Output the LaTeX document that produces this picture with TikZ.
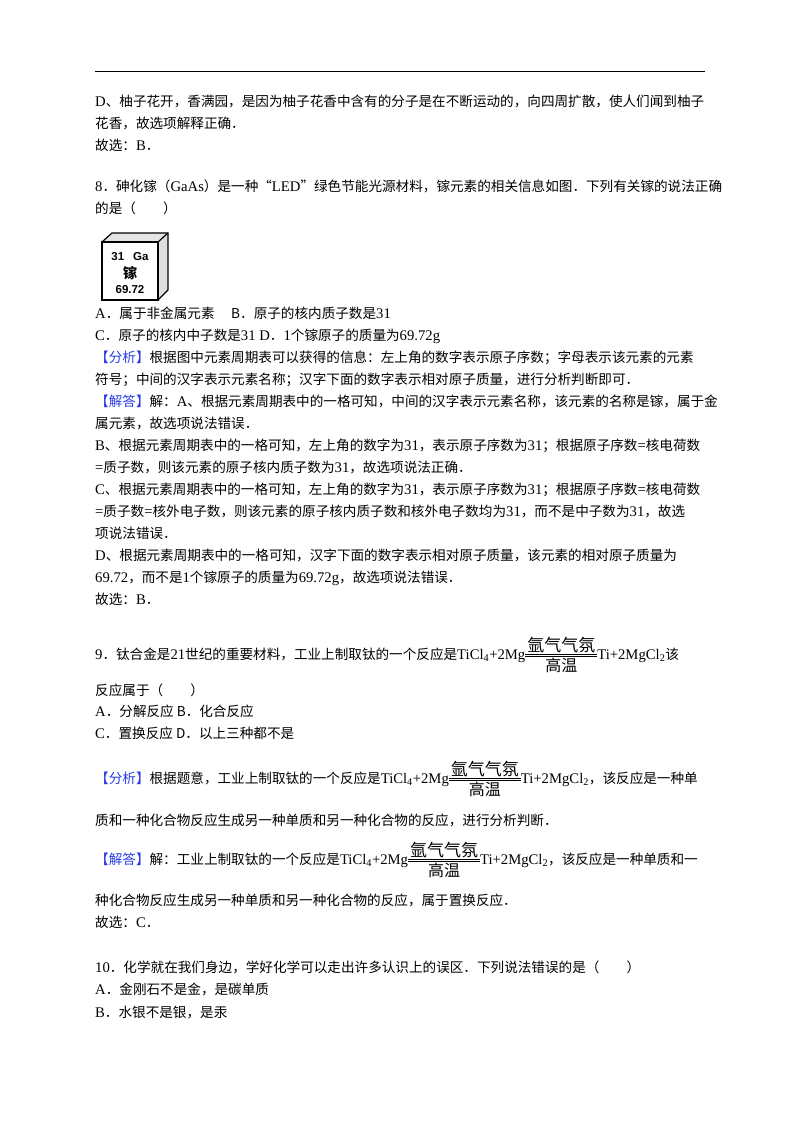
\documentclass[tikz,border=0pt]{standalone}
\usepackage{fontspec}
\setmainfont[Scale=1.08]{Liberation Serif}
\newfontfamily\cjk{Noto Sans CJK SC}
\newfontfamily\latin[Scale=1.08]{Liberation Serif}
\newfontfamily\arialf{Liberation Sans}
\XeTeXinterchartokenstate=1
\newXeTeXintercharclass\cjkclass
\count255="4E00 \loop \XeTeXcharclass\count255=\cjkclass \advance\count255 1 \ifnum\count255<"A000 \repeat
\count255="3000 \loop \XeTeXcharclass\count255=\cjkclass \advance\count255 1 \ifnum\count255<"3040 \repeat
\count255="FF00 \loop \XeTeXcharclass\count255=\cjkclass \advance\count255 1 \ifnum\count255<"FFF0 \repeat
\XeTeXcharclass"201C=\cjkclass \XeTeXcharclass"201D=\cjkclass
\XeTeXinterchartoks 0 \cjkclass = {\cjk}
\XeTeXinterchartoks 4095 \cjkclass = {\cjk}
\XeTeXinterchartoks \cjkclass 0 = {\latin}
\definecolor{tagblue}{RGB}{40,60,230}
\newcommand\tagb[1]{\textcolor{tagblue}{【#1】}}
\newcommand\condeq{\raisebox{0.35ex}{$\mathop{\vbox{\hrule width 72pt height 0.6pt\vskip1.6pt\hrule width 72pt height 0.6pt}}\limits^{\hbox{\fontsize{17}{17}\selectfont 氩气气氛}}_{\hbox{\fontsize{16}{16}\selectfont 高温}}$}}
\newcommand\rxn{TiCl\textsubscript{4}+2Mg\condeq Ti+2MgCl\textsubscript{2}}
\tikzset{txt/.style={anchor=base west,inner sep=0pt,font=\fontsize{13.6}{16}\selectfont}}
\begin{document}
\begin{tikzpicture}[x=1pt,y=-1pt]
\useasboundingbox (0,0) rectangle (800,1132);
\draw[line width=1pt] (95,72) -- (705,72);
\node[txt] (a1) at (95,106) {D、柚子花开，香满园，是因为柚子花香中含有的分子是在不断运动的，向四周扩散，使人们闻到柚子};
\node[txt] (a2) at (95,128) {花香，故选项解释正确．};
\node[txt] (a3) at (95,150) {故选：B．};
\node[txt] (b1) at (95,191) {8．砷化镓（GaAs）是一种“LED”绿色节能光源材料，镓元素的相关信息如图．下列有关镓的说法正确};
\node[txt] (b2) at (95,213) {的是（　　）};
\fill[gray!25] (158,242) -- (168,233) -- (168,290) -- (158,300) -- cycle;
\fill[gray!20] (102,242) -- (112,233) -- (168,233) -- (158,242) -- cycle;
\draw[line width=1.2pt] (102,242) -- (112,233) -- (168,233) -- (168,290) -- (158,300);
\draw[line width=1.2pt] (158,242) -- (168,233);
\draw[line width=1.2pt] (102,242) rectangle (158,300);
\node[font=\arialf\bfseries\fontsize{11.5}{11.5}\selectfont] (e1) at (130,257) {31\hspace{9pt}Ga};
\node[font=\cjk\bfseries\fontsize{14}{14}\selectfont] (e2) at (130,273) {镓};
\node[font=\arialf\bfseries\fontsize{11.5}{11.5}\selectfont] (e3) at (130,290) {69.72};
\node[txt] (c1) at (95,318) {A．属于非金属元素　 B．原子的核内质子数是31};
\node[txt] (c2) at (95,340) {C．原子的核内中子数是31 D．1个镓原子的质量为69.72g};
\node[txt] (c3) at (95,362) {\tagb{分析}根据图中元素周期表可以获得的信息：左上角的数字表示原子序数；字母表示该元素的元素};
\node[txt] (c4) at (95,384) {符号；中间的汉字表示元素名称；汉字下面的数字表示相对原子质量，进行分析判断即可．};
\node[txt] (c5) at (95,406) {\tagb{解答}解：A、根据元素周期表中的一格可知，中间的汉字表示元素名称，该元素的名称是镓，属于金};
\node[txt] (c6) at (95,428) {属元素，故选项说法错误．};
\node[txt] (c7) at (95,450) {B、根据元素周期表中的一格可知，左上角的数字为31，表示原子序数为31；根据原子序数=核电荷数};
\node[txt] (c8) at (95,472) {=质子数，则该元素的原子核内质子数为31，故选项说法正确．};
\node[txt] (c9) at (95,494) {C、根据元素周期表中的一格可知，左上角的数字为31，表示原子序数为31；根据原子序数=核电荷数};
\node[txt] (c10) at (95,516) {=质子数=核外电子数，则该元素的原子核内质子数和核外电子数均为31，而不是中子数为31，故选};
\node[txt] (c11) at (95,538) {项说法错误．};
\node[txt] (c12) at (95,560) {D、根据元素周期表中的一格可知，汉字下面的数字表示相对原子质量，该元素的相对原子质量为};
\node[txt] (c13) at (95,582) {69.72，而不是1个镓原子的质量为69.72g，故选项说法错误．};
\node[txt] (c14) at (95,604) {故选：B．};
\node[txt] (d1) at (95,659) {9．钛合金是21世纪的重要材料，工业上制取钛的一个反应是\rxn 该};
\node[txt] (d2) at (95,695) {反应属于（　　）};
\node[txt] (d3) at (95,716) {A．分解反应 B．化合反应};
\node[txt] (d4) at (95,738) {C．置换反应 D．以上三种都不是};
\node[txt] (d5) at (95,783) {\tagb{分析}根据题意，工业上制取钛的一个反应是\rxn，该反应是一种单};
\node[txt] (d6) at (95,825) {质和一种化合物反应生成另一种单质和另一种化合物的反应，进行分析判断．};
\node[txt] (d7) at (95,864) {\tagb{解答}解：工业上制取钛的一个反应是\rxn，该反应是一种单质和一};
\node[txt] (d8) at (95,905) {种化合物反应生成另一种单质和另一种化合物的反应，属于置换反应．};
\node[txt] (d9) at (95,927) {故选：C．};
\node[txt] (f1) at (95,972) {10．化学就在我们身边，学好化学可以走出许多认识上的误区．下列说法错误的是（　　）};
\node[txt] (f2) at (95,994) {A．金刚石不是金，是碳单质};
\node[txt] (f3) at (95,1017) {B．水银不是银，是汞};
\end{tikzpicture}
\end{document}
